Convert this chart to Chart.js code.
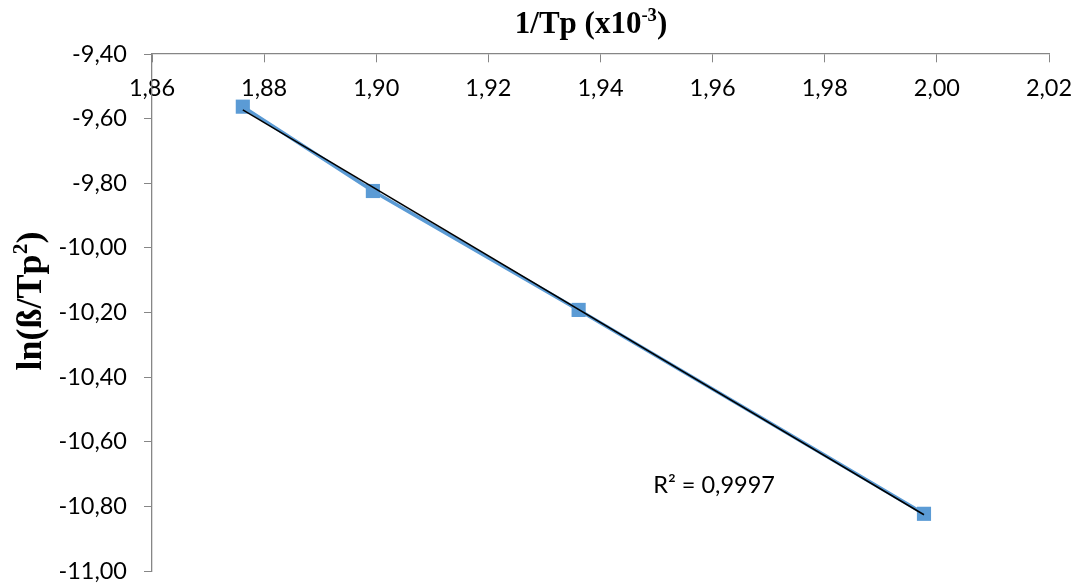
<!DOCTYPE html>
<html>
<head>
<meta charset="utf-8">
<script src="https://cdn.jsdelivr.net/npm/chart.js@4/dist/chart.umd.min.js"></script>
<style>
  html, body { margin: 0; padding: 0; background: #fff; }
  #wrap { width: 1079px; height: 588px; }
</style>
</head>
<body>
<div id="wrap"><canvas id="scatterChart"></canvas></div>
<script>
  // data
  var invTp = [1.8762, 1.8994, 1.9361, 1.9977];
  var lnBetaTp = [-9.563, -9.824, -10.192, -10.823];
  var xTicks = [1.86, 1.88, 1.90, 1.92, 1.94, 1.96, 1.98, 2.00, 2.02];
  var yTicks = [-11.0, -10.8, -10.6, -10.4, -10.2, -10.0, -9.8, -9.6, -9.4];
  var r2Label = 'R² = 0,9997';

  // linear trendline (least squares over the points)
  var n = invTp.length, sx = 0, sy = 0, sxy = 0, sxx = 0;
  for (var i = 0; i < n; i++) {
    sx += invTp[i]; sy += lnBetaTp[i];
    sxy += invTp[i] * lnBetaTp[i]; sxx += invTp[i] * invTp[i];
  }
  var slope = (n * sxy - sx * sy) / (n * sxx - sx * sx);
  var icpt = (sy - slope * sx) / n;
  var xFirst = invTp[0], xLast = invTp[n - 1];
  var trend = [
    { x: xFirst, y: icpt + slope * xFirst },
    { x: xLast, y: icpt + slope * xLast }
  ];

  var points = [];
  for (var j = 0; j < n; j++) points.push({ x: invTp[j], y: lnBetaTp[j] });

  function comma(v) { return v.toFixed(2).replace('.', ','); }

  // draw text pieces with superscripts
  function drawParts(ctx, parts, x, y, size) {
    var cx = x;
    parts.forEach(function(p) {
      var s = p.sup ? size * 0.6 : size;
      ctx.font = 'bold ' + s + 'px "Liberation Serif", "Times New Roman", serif';
      ctx.fillText(p.t, cx, p.sup ? y - size * 0.38 : y);
      cx += ctx.measureText(p.t).width;
    });
  }
  function partsWidth(ctx, parts, size) {
    var w = 0;
    parts.forEach(function(p) {
      var s = p.sup ? size * 0.6 : size;
      ctx.font = 'bold ' + s + 'px "Liberation Serif", "Times New Roman", serif';
      w += ctx.measureText(p.t).width;
    });
    return w;
  }

  var titles = {
    id: 'titles',
    afterDraw: function(chart) {
      var ctx = chart.ctx;
      ctx.save();
      ctx.fillStyle = '#000';
      ctx.textBaseline = 'alphabetic';
      ctx.textAlign = 'left';

      var xt = [{ t: '1/Tp (x10' }, { t: '-3', sup: true }, { t: ')' }];
      var w = partsWidth(ctx, xt, 31);
      drawParts(ctx, xt, 591 - w / 2, 33, 31);

      var yt = [{ t: 'ln(ß/Tp' }, { t: '2', sup: true }, { t: ')' }];
      ctx.translate(41, 301);
      ctx.rotate(-Math.PI / 2);
      w = partsWidth(ctx, yt, 36);
      drawParts(ctx, yt, -w / 2, 0, 36);
      ctx.restore();

      ctx.save();
      ctx.fillStyle = '#000';
      ctx.font = '23.5px Lato, "Open Sans", sans-serif';
      ctx.fillText(r2Label, chart.scales.x.getPixelForValue(1.9494), 493);
      ctx.restore();
    }
  };

  var ctxS = document.getElementById('scatterChart').getContext('2d');
  var myChart = new Chart(ctxS, {
    type: 'scatter',
    data: {
      datasets: [{
          label: 'Trendline',
          data: trend,
          showLine: true,
          borderColor: '#000000',
          borderWidth: 1.5,
          pointRadius: 0,
          order: 0
        },
        {
          label: 'ln(ß/Tp²)',
          data: points,
          showLine: true,
          borderColor: '#5B9BD5',
          backgroundColor: '#5B9BD5',
          borderWidth: 3.5,
          pointStyle: 'rect',
          pointRadius: 10,
          pointBorderWidth: 0,
          order: 1
        }
      ]
    },
    options: {
      responsive: true,
      maintainAspectRatio: false,
      animation: false,
      layout: { padding: { top: 54, right: 30, bottom: 17, left: 0 } },
      plugins: {
        legend: { display: false },
        tooltip: { enabled: false }
      },
      scales: {
        x: {
          type: 'linear',
          position: { y: -9.4 },
          min: 1.86,
          max: 2.02,
          afterBuildTicks: function(s) { s.ticks = xTicks.map(function(v) { return { value: v }; }); },
          afterFit: function(s) { s.paddingLeft = 0; s.paddingRight = 0; },
          grid: { drawOnChartArea: false, drawTicks: true, tickLength: 8, color: '#868686' },
          border: { display: true, color: '#868686', width: 1.3 },
          ticks: {
            color: '#000',
            padding: 12,
            maxRotation: 0,
            autoSkip: false,
            font: { family: 'Lato', size: 23.5 },
            callback: function(v) { return comma(v); }
          }
        },
        y: {
          type: 'linear',
          position: 'left',
          min: -11,
          max: -9.4,
          afterBuildTicks: function(s) { s.ticks = yTicks.map(function(v) { return { value: v }; }); },
          afterFit: function(s) { s.width = 152; s.paddingTop = 0; s.paddingBottom = 0; },
          grid: { drawOnChartArea: false, drawTicks: true, tickLength: 8, color: '#868686' },
          border: { display: true, color: '#868686', width: 1.3 },
          ticks: {
            color: '#000',
            padding: 17,
            autoSkip: false,
            font: { family: 'Lato', size: 23.5 },
            callback: function(v) { return comma(v); }
          }
        }
      }
    },
    plugins: [titles]
  });
</script>
</body>
</html>
